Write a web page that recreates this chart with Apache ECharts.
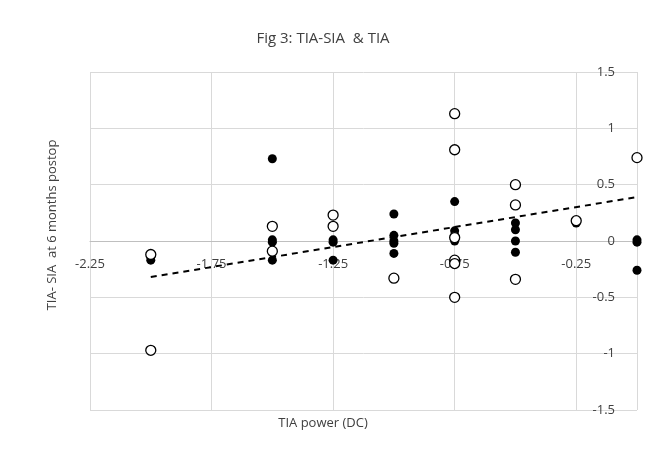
<!DOCTYPE html>
<html>
<head>
    <meta charset="utf-8">
    <script src="https://cdn.jsdelivr.net/npm/echarts@6/dist/echarts.min.js"></script>
</head>
<body style="margin:0">
<div id="main" style="width:646px;height:450px;"></div>
<script>
    // TIA-SIA & TIA data
    var filledX = [-2, -2, -1.5, -1.5, -1.5, -1.5, -1.25, -1.25, -1.25, -1, -1, -1, -1, -1, -0.75, -0.75, -0.75, -0.75, -0.5, -0.5, -0.5, -0.5, -0.25, 0, 0, 0];
    var filledY = [-0.17, -0.14, 0.73, 0.01, -0.01, -0.17, 0.01, -0.01, -0.17, 0.24, 0.05, 0, -0.02, -0.11, 0.35, 0.09, 0.05, 0, 0.16, 0.1, 0, -0.1, 0.16, 0.01, -0.01, -0.26];
    var openX = [-2, -2, -1.5, -1.5, -1.25, -1.25, -1, -0.75, -0.75, -0.75, -0.75, -0.75, -0.75, -0.5, -0.5, -0.5, -0.25, 0];
    var openY = [-0.12, -0.97, 0.13, -0.09, 0.23, 0.13, -0.33, 1.13, 0.81, 0.03, -0.17, -0.2, -0.5, 0.5, 0.32, -0.34, 0.18, 0.74];
    var trendX = [-2, 0];
    var trendY = [-0.32, 0.39];

    function pairs(xs, ys) {
        return xs.map(function (x, i) { return [x, ys[i]]; });
    }

    var myChart = echarts.init(document.getElementById('main'));
    var option = {
        animation: false,
        textStyle: {fontFamily: 'Open Sans', color: '#404040'},
        title: {
            text: 'Fig 3: TIA-SIA  & TIA',
            left: 'center', top: 26,
            textStyle: {fontSize: 15, fontWeight: 'normal', color: '#404040'}
        },
        grid: {left: 90, right: 9, top: 72, bottom: 40, containLabel: false, outerBoundsMode: 'none'},
        xAxis: {
            type: 'value', min: -2.25, max: 0, interval: 0.5,
            offset: -169,
            axisLine: {onZero: false, lineStyle: {color: '#bfbfbf'}},
            axisTick: {show: false},
            axisLabel: {fontSize: 13, color: '#404040', showMaxLabel: false, margin: 17},
            splitLine: {lineStyle: {color: '#d9d9d9'}}
        },
        yAxis: {
            type: 'value', min: -1.5, max: 1.5, interval: 0.5, position: 'right',
            axisLine: {show: false}, axisTick: {show: false},
            axisLabel: {inside: true, fontSize: 13, color: '#404040', margin: 22},
            splitLine: {lineStyle: {color: '#d9d9d9'}}
        },
        graphic: [{
            type: 'text', left: 46, top: 'middle', rotation: Math.PI / 2,
            style: {text: 'TIA- SIA  at 6 months postop', fontSize: 13, fill: '#404040', fontFamily: 'Open Sans'}
        }, {
            type: 'text', left: 'center', top: 417,
            style: {text: 'TIA power (DC)', fontSize: 13, fill: '#404040', fontFamily: 'Open Sans'}
        }],
        series: [
            {type: 'scatter', data: pairs(filledX, filledY), symbolSize: 9,
             itemStyle: {color: '#000', opacity: 1}},
            {type: 'scatter', data: pairs(openX, openY), symbolSize: 10,
             itemStyle: {color: '#fff', borderColor: '#000', borderWidth: 1.3, opacity: 1}},
            {type: 'line', data: pairs(trendX, trendY), symbol: 'none',
             lineStyle: {color: '#000', width: 2, type: [6, 5]}}
        ]
    };
    myChart.setOption(option);
</script>
</body>
</html>
